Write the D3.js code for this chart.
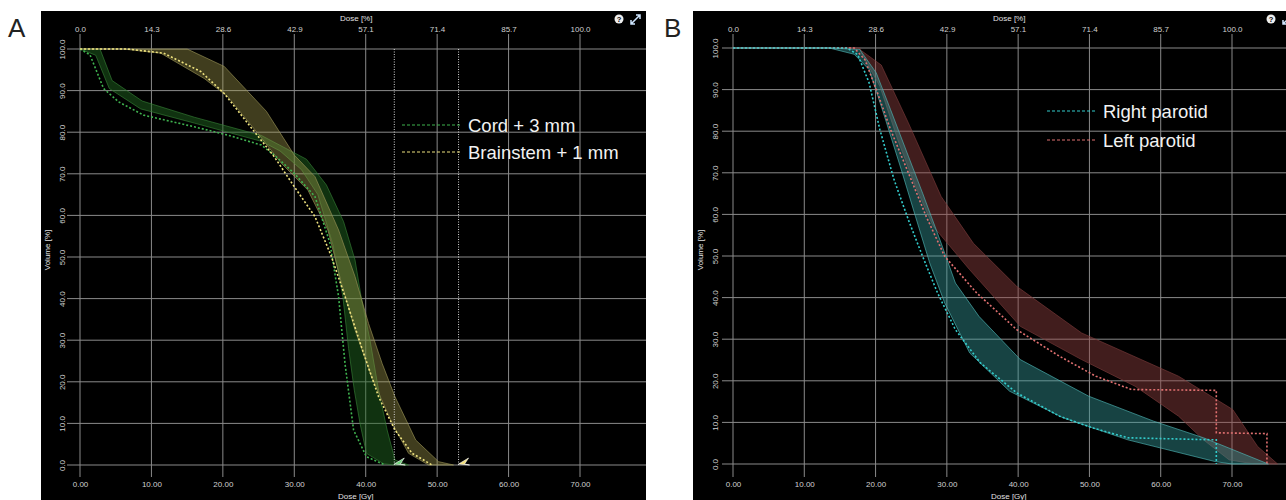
<!DOCTYPE html>
<html>
<head>
<meta charset="utf-8">
<script src="https://cdn.jsdelivr.net/npm/d3@7"></script>
<style>
  body { margin: 0; background: #fff; }
  svg { display: block; font-family: "Liberation Sans", Arial, sans-serif; }
</style>
</head>
<body>
<svg id="chart" width="1286" height="500"></svg>
<script>
// axis ticks shared by both panels
const doseTicks = [0, 10, 20, 30, 40, 50, 60, 70];
const percentTicks = [0, 14.3, 28.6, 42.9, 57.1, 71.4, 85.7, 100.0];
const volumeTicks = [0, 10, 20, 30, 40, 50, 60, 70, 80, 90, 100];

// panel A: [dose Gy, volume %]
const cordNominal = [[0,100],[1.4,98.6],[3.3,90.5],[5.4,87.3],[8.9,84.1],[16,81.3],[20.7,79.3],[25.4,76.9],[27.2,74.5],[30,70.1],[32.9,64.5],[35,53.3],[36.2,40.5],[37.1,24.4],[38.3,8.4],[40.1,2],[42.7,0]];
const cordMax = [[0,100],[2.8,100],[4.5,92.4],[8.7,87.5],[16,83.6],[25.4,79.2],[31.7,73.5],[34.5,67.3],[36.9,58.5],[38.5,49.3],[39.4,40],[40.6,30],[41.8,18],[43,8.4],[44.1,1.2],[46,0]];
const cordMin = [[0,100],[2.2,98.5],[4.1,90.5],[8.5,85.6],[16,82.2],[25.4,77.8],[28,75.5],[31,71],[33.3,65],[35.4,53],[36.8,40.5],[37.6,28],[38.4,18],[39.2,10],[40.1,2.8],[42.5,0.3],[44,0]];
const brainstemNominal = [[0,100],[6.6,100],[11.7,99],[16.9,94.6],[20.2,89.3],[23.5,82.1],[27.2,74.1],[30,66.9],[32.9,59.7],[35.2,50.1],[37.1,40.5],[39.4,28.4],[41.8,16.4],[44.1,8.4],[46.5,2.8],[49.3,0]];
const brainstemMax = [[0,100],[15,100],[20.2,95.8],[26.1,85],[30,74.5],[32.9,69.3],[36.2,56.5],[38.5,45.3],[40.4,34],[42.3,24.4],[44.1,16.4],[47,6],[50.2,0.8],[52.3,0]];
const brainstemMin = [[0,100],[6,100],[11.3,99],[17.4,92.9],[20.7,88.5],[24.9,79.7],[28.2,72.5],[31.9,66.1],[34.7,56.5],[36.6,43.7],[38.5,32.5],[40.8,21.2],[43.7,10],[46,2.8],[48.8,0]];
const limitDosesA = [44, 53];

// panel B
const rightNominal = [[0,100],[16,100],[17.5,98.4],[19.1,91.6],[20.6,80.4],[22.6,68.3],[24.6,58.7],[26.6,49.9],[28.7,41.1],[31.2,32.3],[34.7,24.3],[39.8,17.1],[45.8,11.5],[50.4,8.7],[55.4,6.3],[67.8,5.8],[67.8,0]];
const rightMax = [[0,100],[14,100],[17.8,99.6],[20.1,94],[22.1,85.2],[24.6,74],[26.6,65.1],[29.2,53.1],[31.2,43.5],[34.5,35.5],[40.3,25.1],[49.9,16.3],[59,10.3],[66,6.3],[75.1,0]];
const rightMin = [[0,100],[13.5,100],[17,98.5],[19.1,94.8],[21.1,84.4],[23.6,70.8],[25.6,59.5],[27.6,48.3],[29.7,38.7],[33.2,26.7],[38.8,17.5],[46.3,11.1],[55.4,5.8],[67.6,0.6],[70,0]];
const leftNominal = [[0,100],[17,100],[18.5,97.2],[20.1,90],[22.1,80.4],[24.6,70],[27.1,59.5],[29.7,49.9],[34.2,41.1],[39.8,32.3],[45.8,25.9],[50.9,21.1],[55.9,17.9],[67.8,17.7],[67.8,7.5],[74.9,7.3],[74.9,0]];
const leftMax = [[0,100],[17.5,100],[20.8,95.9],[24.6,82],[29.2,64.3],[33.7,53.1],[39.8,42.7],[48.9,31.5],[62.5,21.1],[70.1,13.1],[73.6,4.2],[76.4,0]];
const leftMin = [[0,100],[17.8,100],[18,98.8],[20.6,90.8],[23.1,78],[25.6,66.7],[28.1,57.1],[33.2,46.7],[40.3,33.1],[48.9,25.1],[56.4,18.7],[62.5,11.5],[66,5.8],[69.6,1],[73.1,0]];

const svg = d3.select('#chart');

const panels = [
  {
    label: 'A', labelX: 8, left: 41, right: 646,
    x0: 80, x70: 580, yTop: 49, yBottom: 465, gridLeft: 67, volX: 47, tickX: 62,
    icons: [619, 636],
    structures: [
      { name: 'Cord + 3 mm', nominal: cordNominal, max: cordMax, min: cordMin, line: '#3fb34f', fill: '#246e24', edge: '#357f35', opacity: 0.45 },
      { name: 'Brainstem + 1 mm', nominal: brainstemNominal, max: brainstemMax, min: brainstemMin, line: '#eee27e', fill: '#a8a050', edge: '#9a9456', opacity: 0.38 }
    ],
    bandOrder: [0, 1],
    legend: { x1: 402, x2: 460, y: 125, step: 27 },
    limits: limitDosesA,
    markerColors: ['#6fd67a', '#f4e27c']
  },
  {
    label: 'B', labelX: 664, left: 693, right: 1286,
    x0: 733, x70: 1232, yTop: 48, yBottom: 464, gridLeft: 722, volX: 700, tickX: 715,
    icons: [1271, 1288],
    structures: [
      { name: 'Right parotid', nominal: rightNominal, max: rightMax, min: rightMin, line: '#33cccc', fill: '#36a0a0', edge: '#4fb8b8', opacity: 0.42 },
      { name: 'Left parotid', nominal: leftNominal, max: leftMax, min: leftMin, line: '#e07070', fill: '#9a4444', edge: '#7a3a3a', opacity: 0.42 }
    ],
    bandOrder: [1, 0],
    legend: { x1: 1047, x2: 1095, y: 111, step: 29 },
    limits: [],
    markerColors: []
  }
];

function drawPanel(p) {
  const g = svg.append('g');
  g.append('rect')
    .attr('x', p.left).attr('y', 11)
    .attr('width', p.right - p.left).attr('height', 489)
    .attr('fill', '#000');

  svg.append('text')
    .attr('x', p.labelX).attr('y', 37)
    .attr('font-size', 26).attr('fill', '#222')
    .text(p.label);

  const x = d3.scaleLinear().domain([0, 70]).range([p.x0, p.x70]);
  const xPct = d3.scaleLinear().domain([0, 100]).range([p.x0, p.x70]);
  const y = d3.scaleLinear().domain([0, 100]).range([p.yBottom, p.yTop]);

  // grid
  g.selectAll('.vgrid').data(doseTicks).join('line')
    .attr('x1', d => x(d)).attr('x2', d => x(d))
    .attr('y1', 34).attr('y2', 477)
    .attr('stroke', '#8a8a8a').attr('stroke-width', 1);
  g.selectAll('.hgrid').data(volumeTicks).join('line')
    .attr('x1', p.gridLeft).attr('x2', p.right)
    .attr('y1', d => y(d)).attr('y2', d => y(d))
    .attr('stroke', '#8a8a8a').attr('stroke-width', 1);

  // axes (labels only)
  const bottom = g.append('g').attr('transform', 'translate(0,487)')
    .call(d3.axisBottom(x).tickValues(doseTicks).tickFormat(d3.format('.2f')).tickSize(0).tickPadding(0));
  const top = g.append('g').attr('transform', 'translate(0,32)')
    .call(d3.axisTop(xPct).tickValues(percentTicks).tickFormat(d3.format('.1f')).tickSize(0).tickPadding(0));
  const left = g.append('g').attr('transform', 'translate(' + p.tickX + ',0)')
    .call(d3.axisLeft(y).tickValues(volumeTicks).tickFormat(d3.format('.1f')).tickSize(0).tickPadding(0));
  [bottom, top, left].forEach(a => {
    a.select('.domain').remove();
    a.selectAll('text').attr('fill', '#d0d0d0').attr('font-size', 8)
      .attr('font-family', '"Liberation Sans", Arial, sans-serif');
  });
  bottom.selectAll('text').attr('dy', null).attr('y', 0);
  top.selectAll('text').attr('dy', null).attr('y', 0);
  left.selectAll('text').attr('dy', null).attr('x', 0).attr('y', 0)
    .attr('text-anchor', 'middle').attr('dominant-baseline', 'central')
    .attr('transform', 'rotate(-90)');

  g.append('text').attr('x', p.x0 + 260).attr('y', 21)
    .attr('font-size', 8).attr('fill', '#e0e0e0').text('Dose [%]');
  g.append('text').attr('x', p.x0 + 258).attr('y', 499)
    .attr('font-size', 8).attr('fill', '#e0e0e0').text('Dose [Gy]');
  g.append('text')
    .attr('transform', 'translate(' + p.volX + ',250) rotate(-90)')
    .attr('text-anchor', 'middle').attr('dominant-baseline', 'central')
    .attr('font-size', 8).attr('fill', '#e0e0e0').text('Volume [%]');

  // help + expand icons
  g.append('circle').attr('cx', p.icons[0]).attr('cy', 19).attr('r', 4.5).attr('fill', '#eee');
  g.append('text').attr('x', p.icons[0]).attr('y', 21.8).attr('text-anchor', 'middle')
    .attr('font-size', 7.5).attr('font-weight', 'bold').attr('fill', '#000').text('?');
  const ex = p.icons[1];
  g.append('path')
    .attr('d', `M${ex - 5},${24} L${ex + 4},${15} M${ex},${15} L${ex + 4},${15} L${ex + 4},${19} M${ex - 5},${20} L${ex - 5},${24} L${ex - 1},${24}`)
    .attr('stroke', '#cfe6ff').attr('stroke-width', 1.5).attr('fill', 'none');

  const line = d3.line().x(d => x(d[0])).y(d => y(d[1]));

  // uncertainty bands
  p.bandOrder.forEach(i => {
    const s = p.structures[i];
    const poly = s.max.concat(s.min.slice().reverse());
    g.append('path')
      .attr('d', line(poly) + 'Z')
      .attr('fill', s.fill).attr('fill-opacity', s.opacity)
      .attr('stroke', s.edge).attr('stroke-opacity', 0.8).attr('stroke-width', 0.8);
  });

  // limit lines
  g.selectAll('.limit').data(p.limits).join('line')
    .attr('x1', d => x(d)).attr('x2', d => x(d))
    .attr('y1', p.yTop).attr('y2', p.yBottom)
    .attr('stroke', '#d8d8d8').attr('stroke-width', 1).attr('stroke-dasharray', '1,1.5');

  // nominal curves
  p.bandOrder.forEach(i => {
    const s = p.structures[i];
    g.append('path')
      .attr('d', line(s.nominal))
      .attr('fill', 'none').attr('stroke', s.line)
      .attr('stroke-width', 1.6).attr('stroke-dasharray', '2,2');
  });

  // markers on the dose axis
  p.limits.forEach((d, i) => {
    const mx = x(d), my = p.yBottom - 1;
    g.append('path')
      .attr('d', `M${mx},${my} L${mx + 10},${my - 6} L${mx + 6},${my} L${mx + 11},${my + 1} Z`)
      .attr('fill', p.markerColors[i]).attr('stroke', '#fff').attr('stroke-width', 0.6);
  });

  // legend
  p.structures.forEach((s, i) => {
    const ly = p.legend.y + i * p.legend.step;
    g.append('line')
      .attr('x1', p.legend.x1).attr('x2', p.legend.x2)
      .attr('y1', ly).attr('y2', ly)
      .attr('stroke', s.line).attr('stroke-width', 1.2).attr('stroke-dasharray', '3,2');
    g.append('text')
      .attr('x', p.legend.x2 + 8).attr('y', ly)
      .attr('dominant-baseline', 'central')
      .attr('font-size', 18.5).attr('fill', '#f2f2f2')
      .text(s.name);
  });
}

panels.forEach(drawPanel);
</script>
</body>
</html>
